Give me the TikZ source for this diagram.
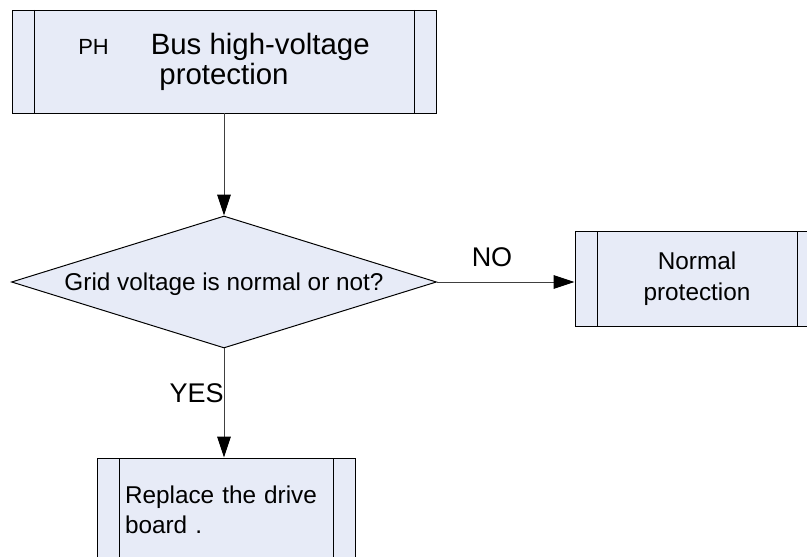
\documentclass[tikz,border=0pt]{standalone}
\usepackage{fontspec}
\setmainfont{Liberation Sans}
\usepackage{tikz}
\usetikzlibrary{arrows.meta,shapes.geometric,positioning}
\definecolor{boxfill}{RGB}{231,235,247}
\tikzset{
  procbox/.style={rectangle, draw=black, fill=boxfill, line width=0.7pt, inner sep=0pt,
    path picture={
      \draw[line width=0.7pt] ([xshift=0.55cm]path picture bounding box.north west) -- ([xshift=0.55cm]path picture bounding box.south west);
      \draw[line width=0.7pt] ([xshift=-0.55cm]path picture bounding box.north east) -- ([xshift=-0.55cm]path picture bounding box.south east);
    }},
  decision/.style={diamond, draw=black, fill=boxfill, line width=0.7pt, inner sep=0pt, aspect=3.2},
  flow/.style={draw=black!75, line width=0.6pt, -{Triangle[length=0.52cm,width=0.34cm,color=black]}},
  boxfont/.style={font=\fontsize{17.3}{21.3}\selectfont},
  lblfont/.style={font=\fontsize{19.2}{22}\selectfont, inner sep=0pt}
}

\begin{document}
\begin{tikzpicture}
      \useasboundingbox (0,0) rectangle (20.175,13.9);
      \clip (0,0) rectangle (20.175,13.9);

      \node[procbox, minimum width=10.6cm, minimum height=2.575cm, align=center,
        font=\fontsize{20.9}{21.3}\selectfont] at (5.6,12.3625) (bus)
        {{\fontsize{15.6}{18}\selectfont PH}\hspace{1.05cm}Bus high-voltage\\protection};

      \node[decision, minimum width=10.625cm, minimum height=3.3cm, boxfont, text depth=0pt]
        at (5.6,6.85) (grid) {Grid voltage is normal or not?\hspace{0.3cm}};

      \node[procbox, minimum width=6.1cm, minimum height=2.375cm, align=center,
        font=\fontsize{17.3}{22}\selectfont] at (17.425,6.9375) (normal) {Normal\\protection};

      \node[procbox, minimum width=6.45cm, minimum height=2.575cm, text width=5.05cm,
        align=left, boxfont] at (5.65,1.1625) (board) {Replace the drive\\board .};

      \draw[flow] (bus) -- (grid);
      \draw[flow] (grid.east) -- (grid.east -| normal.west)
        node[pos=0.4, above=0.37cm, lblfont] (no) {NO};
      \draw[flow] (grid.south) -- (grid.south |- board.north)
        node[pos=0.41, left, lblfont] (yes) {YES};
    \end{tikzpicture}
\end{document}
